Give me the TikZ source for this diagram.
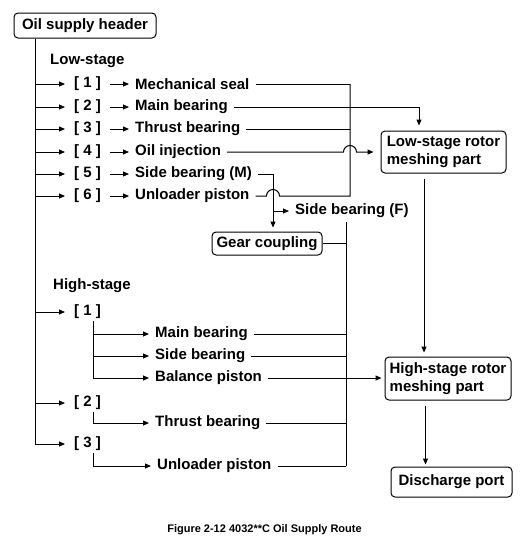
\documentclass[tikz,border=0pt]{standalone}
\usepackage{fontspec}
\setmainfont{Liberation Sans}
\usetikzlibrary{arrows.meta,positioning,calc}

\begin{document}
\begin{tikzpicture}[x=1pt, y=-1pt,
  unit/.style={draw, rounded corners=4pt, line width=1pt, inner sep=0pt, align=left, font=\fontsize{15}{17.5}\selectfont\bfseries},
  tag/.style={anchor=west, inner xsep=9pt, inner ysep=2pt, font=\fontsize{15}{17.5}\selectfont\bfseries},
  item/.style={anchor=west, inner xsep=6pt, inner ysep=2pt, font=\fontsize{15}{17.5}\selectfont\bfseries},
  stage/.style={anchor=west, inner sep=0pt, font=\fontsize{15}{17.5}\selectfont\bfseries},
  arr/.style={-{Triangle[length=6pt,width=5pt]}, line width=1pt},
  ln/.style={line width=1pt}
]
  \useasboundingbox (0,0) rectangle (522,558);

  % boxes
  \node[unit, minimum width=142pt, minimum height=25pt] (hdr) at (85,25.5) {Oil supply header};
  \node[unit, minimum width=110pt, minimum height=23pt] (gear) at (267,243.5) {Gear coupling};
  \node[unit, minimum width=125pt, minimum height=42pt] (lrotor) at (443.5,152) {Low-stage rotor\\meshing part};
  \node[unit, minimum width=126pt, minimum height=43pt] (hrotor) at (448,378.5) {High-stage rotor\\meshing part};
  \node[unit, minimum width=121pt, minimum height=30pt] (dis) at (451.5,482) {Discharge port};

  \coordinate (trunk) at (35,38);
  \coordinate (lc) at (350,84);
  \coordinate (jm) at (273,174);
  \coordinate (hc) at (346,222);
  \coordinate (lin) at ([xshift=-24.5pt]lrotor.north);

  % low-stage
  \node[stage] (low) at (50,61) {Low-stage};
  \foreach \i/\y/\txt in {1/84/Mechanical seal, 2/107/Main bearing, 3/129/Thrust bearing,
                          4/152/Oil injection, 5/174/Side bearing (M), 6/196/Unloader piston}{
    \node[tag] (lb\i) at (65,\y) {[ \i\ ]};
    \node[item] (li\i) at (129,\y) {\txt};
    \draw[arr] (trunk |- lb\i) -- (lb\i.west);
    \draw[arr] (lb\i.east) -- (li\i.west);
  }
  \node[item] (sbf) at (289,211) {Side bearing (F)};

  \draw[ln] (li1.east) -- (lc);
  \draw[ln] (li3.east) -- (li3.east -| lc);
  \draw[arr, shorten >=5pt] (li2.east) -| (lin);
  \draw[arr, shorten >=7pt] (li4.east) -- ($(li4.east -| lc)+(-6.5,0)$)
    arc[start angle=180, end angle=0, radius=6.5pt] -- (li4.east -| lrotor.west);
  \draw[arr, shorten >=4pt] (li5.east) -| (jm |- gear.north);
  \draw[arr] (jm |- sbf) -- (sbf.west);
  \draw[ln] (li6.east) -- ($(li6.east -| jm)+(-6.5,0)$)
    arc[start angle=180, end angle=0, radius=6.5pt] -- (li6.east -| lc) -- (lc);

  % high-stage
  \node[stage] (high) at (53,286) {High-stage};
  \node[tag] (hb1) at (65,312) {[ 1 ]};
  \node[tag] (hb2) at (65,403) {[ 2 ]};
  \node[tag] (hb3) at (65,444) {[ 3 ]};
  \foreach \n in {hb1,hb2,hb3}
    \draw[arr] (trunk |- \n) -- (\n.west);
  \draw[ln] (hdr.south -| trunk) -- (trunk |- hb3);

  \foreach \n/\y/\txt in {hmb/334/Main bearing, hsb/356/Side bearing, hbp/378/Balance piston}{
    \node[item] (\n) at (149,\y) {\txt};
    \draw[arr] ([xshift=5.5pt]hb1.south) |- (\n.west);
  }
  \node[item] (hthr) at (149,423) {Thrust bearing};
  \node[item] (hul) at (151,466) {Unloader piston};
  \draw[arr] ([xshift=5.5pt]hb2.south) |- (hthr.west);
  \draw[arr] ([xshift=5.5pt]hb3.south) |- (hul.west);

  \draw[ln] (hc) -- (hc |- hul);
  \foreach \n in {gear,hmb,hsb,hthr,hul}
    \draw[ln] (\n.east) -- (\n.east -| hc);
  \draw[arr, shorten >=3pt] (hbp.east) -- (hbp.east -| hrotor.west);

  % rotors to discharge
  \draw[arr, shorten <=5pt, shorten >=4pt] ([xshift=-19.5pt]lrotor.south) -- ([xshift=-19.5pt]lrotor.south |- hrotor.north);
  \draw[arr, shorten <=5pt, shorten >=2pt] ([xshift=-22.5pt]hrotor.south) -- ([xshift=-22.5pt]hrotor.south |- dis.north);

  \node[font=\fontsize{11}{13}\selectfont\bfseries] (cap) at (264.5,530) {Figure 2-12 4032**C Oil Supply Route};
\end{tikzpicture}
\end{document}
